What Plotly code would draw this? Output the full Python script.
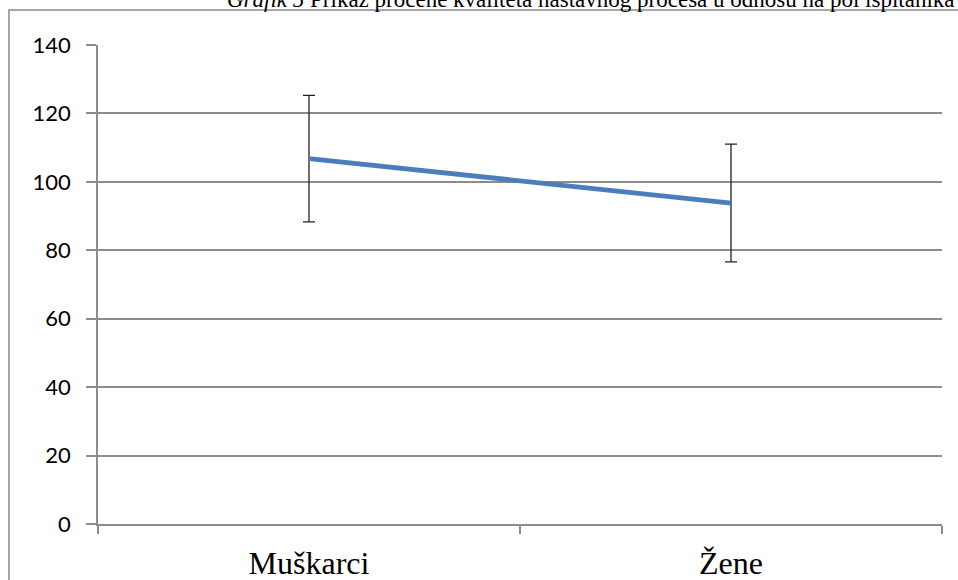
import plotly.graph_objects as go

categories = ["Muškarci", "Žene"]
means = [106.8, 93.8]
errors = [18.5, 17.2]
y_ticks = [0, 20, 40, 60, 80, 100, 120, 140]
title_text = "<i>Grafik 5</i> Prikaz procene kvaliteta nastavnog procesa u odnosu na pol ispitanika"

W, H = 958, 580
L, R, T, B = 98, 16, 45, 56
pw, ph = W - L - R, H - T - B

def px_x(p):
    return (p - L) / pw

def px_y(p):
    return (H - B - p) / ph

fig = go.Figure()
fig.add_trace(go.Scatter(
    x=categories, y=means, mode="lines",
    line=dict(color="#4A7EBB", width=4.8),
    error_y=dict(type="data", array=errors, visible=True,
                 color="#222222", thickness=1.3, width=6),
    showlegend=False, hoverinfo="skip",
))

grid = "#8c8c8c"
fig.update_layout(
    width=W, height=H,
    margin=dict(l=L, r=R, t=T, b=B, autoexpand=False),
    paper_bgcolor="white", plot_bgcolor="white",
    xaxis=dict(
        type="category", tickson="boundaries", range=[-0.5, 1.5],
        automargin=False,
        showgrid=False, showline=True, linecolor=grid, linewidth=1.5,
        ticks="outside", ticklen=8, tickcolor=grid, tickwidth=1.5,
        ticklabelstandoff=10,
        tickfont=dict(family="Liberation Serif", size=32, color="black"),
        zeroline=False,
    ),
    yaxis=dict(
        range=[0, 140], tickvals=y_ticks, automargin=False,
        showgrid=True, gridcolor=grid, gridwidth=1.5,
        showline=True, linecolor=grid, linewidth=1.5,
        ticks="outside", ticklen=10, tickcolor=grid, tickwidth=1.5,
        ticklabelstandoff=11,
        tickfont=dict(family="Lato", size=22, color="black"),
        zeroline=False,
    ),
    shapes=[dict(
        type="rect", xref="paper", yref="paper",
        x0=px_x(9), x1=px_x(1000), y0=px_y(640), y1=px_y(10),
        line=dict(color="#8a8a8a", width=1.5), fillcolor="rgba(0,0,0,0)",
        layer="above",
    )],
    annotations=[dict(
        text=title_text, xref="paper", yref="paper",
        x=px_x(225), y=px_y(14), xanchor="left", yanchor="bottom",
        showarrow=False,
        font=dict(family="Liberation Serif", size=23, color="black"),
    )],
)

fig.write_html(
    "out.html",
    config={"displayModeBar": False},
    post_script="document.body.style.margin='0';document.body.style.overflow='hidden';",
)
